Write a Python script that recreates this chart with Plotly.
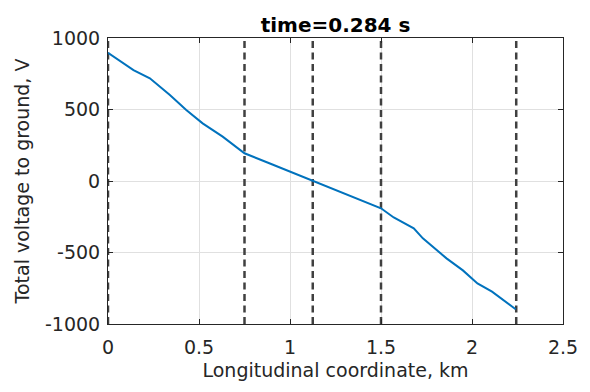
import plotly.graph_objects as go

# Voltage profile along the line
x_km = [0, 0.07, 0.14, 0.23, 0.34, 0.43, 0.52, 0.63, 0.75, 0.9, 1.0, 1.12, 1.25, 1.38, 1.5,
        1.57, 1.68, 1.73, 1.86, 1.95, 2.03, 2.11, 2.24]
voltage = [897, 835, 776, 718, 601, 497, 403, 310, 194, 117, 66, 0, -66, -133, -191,
           -255, -331, -401, -541, -625, -716, -774, -897]

# Positions of vertical dashed markers (km)
markers_km = [0, 0.75, 1.125, 1.5, 2.243]

title = "time=0.284 s"
x_title = "Longitudinal coordinate, km"
y_title = "Total voltage to ground, V"
x_ticks = [0, 0.5, 1, 1.5, 2, 2.5]
y_ticks = [-1000, -500, 0, 500, 1000]

fig = go.Figure()
for xm in markers_km:
    fig.add_trace(go.Scatter(x=[xm, xm], y=[-1000, 1000], mode="lines",
                             line=dict(color="#404040", width=2.5, dash="7px,4.5px"),
                             showlegend=False, hoverinfo="skip"))
fig.add_trace(go.Scatter(x=x_km, y=voltage, mode="lines",
                         line=dict(color="#0072BD", width=2), showlegend=False))

font = "DejaVu Sans, sans-serif"
axis_common = dict(showline=True, linecolor="#262626", linewidth=1, mirror="ticks",
                   ticks="inside", ticklen=5, tickcolor="#262626",
                   showgrid=True, gridcolor="#e0e0e0", gridwidth=1, zeroline=False,
                   tickfont=dict(family=font, size=19, color="#262626"))

fig.update_layout(
    width=590, height=392,
    margin=dict(l=108, r=21, t=38, b=68),
    paper_bgcolor="white", plot_bgcolor="white",
    title=dict(text="<b>" + title + "</b>", x=0.5, xanchor="center",
               xref="paper", y=1, yref="paper", yanchor="bottom", pad=dict(b=6),
               font=dict(family=font, size=20, color="black")),
    xaxis=dict(range=[0, 2.5], tickvals=x_ticks, ticktext=[str(t) for t in x_ticks],
               ticklabelstandoff=6,
               title=dict(text=x_title, standoff=6,
                          font=dict(family=font, size=19, color="#262626")),
               **axis_common),
    yaxis=dict(range=[-1000, 1000], tickvals=y_ticks,
               ticktext=[str(t) for t in y_ticks], ticklabelstandoff=3,
               title=dict(text=y_title, standoff=10,
                          font=dict(family=font, size=19, color="#262626")),
               **axis_common),
)

fig.write_html("out.html")
